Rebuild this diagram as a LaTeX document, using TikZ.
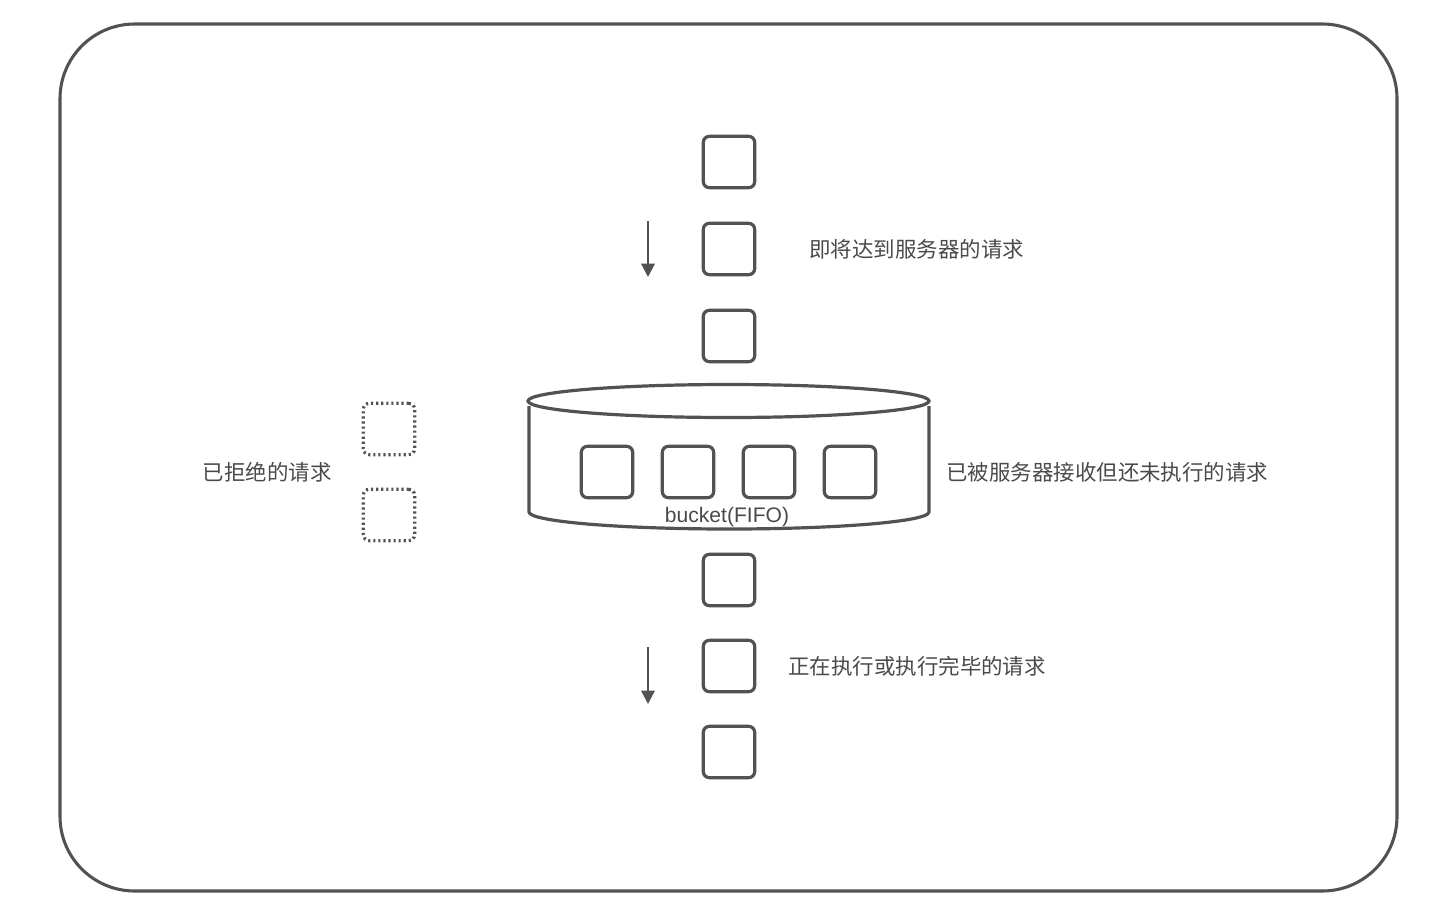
\documentclass[tikz,border=0pt]{standalone}
\usepackage{fontspec}
\setmainfont{Liberation Sans}
\newfontfamily\cjk{Noto Sans CJK SC}
\usetikzlibrary{arrows.meta}
\definecolor{ink}{HTML}{525252}
\definecolor{txt}{HTML}{4A4A4A}
\begin{document}
\begin{tikzpicture}[x=0.75pt,y=-0.75pt,
  req/.style={draw=ink, line width=2.4pt, rounded corners=4.5pt,
    minimum width=38.5pt, minimum height=38.5pt, inner sep=0pt},
  rejected/.style={draw=ink, line width=2.4pt, rounded corners=4.5pt,
    dash pattern=on 1.6pt off 2.2pt,
    minimum width=38.5pt, minimum height=38.5pt, inner sep=0pt},
  caption/.style={text=txt, font=\cjk\fontsize{16.1pt}{18pt}\selectfont,
    inner sep=0pt},
  flow/.style={draw=ink, line width=1.7pt,
    -{Triangle[length=10pt,width=10pt]}}]
\useasboundingbox (0,0) rectangle (1434,922);

% outer frame
\draw[ink, line width=2.3pt, rounded corners=56pt] (60,24) rectangle (1397,891);

% incoming requests
\node[req] (in1) at (729,162) {};
\node[req] (in2) at (729,249) {};
\node[req] (in3) at (729,336) {};
\coordinate (inA) at (648,221);
\coordinate (inB) at (648,277);
\draw[flow] (inA) -- (inB);
\node[caption, anchor=west] (inlabel) at (809,249) {即将达到服务器的请求};

% bucket (cylinder)
\draw[ink, line width=2.4pt, fill=white]
  (529,406) -- (529,512) arc[start angle=180, end angle=0, x radius=200, y radius=17]
  -- (929,406);
\draw[ink, line width=2.4pt, fill=white] (728.5,401) ellipse[x radius=200.5, y radius=16.5];
\node[req] (q1) at (607,472) {};
\node[req] (q2) at (688,472) {};
\node[req] (q3) at (769,472) {};
\node[req] (q4) at (850,472) {};
\node[text=txt, font=\fontsize{15.8pt}{18pt}\selectfont, inner sep=0pt] (bucket) at (727,517) {bucket(FIFO)};
\node[caption, anchor=west] (qlabel) at (946,472) {已被服务器接收但还未执行的请求};

% rejected requests
\node[rejected] (r1) at (389,429) {};
\node[rejected] (r2) at (389,515) {};
\node[caption, anchor=east] (rlabel) at (332,472) {已拒绝的请求};

% processed requests
\node[req] (out1) at (729,580) {};
\node[req] (out2) at (729,666) {};
\node[req] (out3) at (729,752) {};
\coordinate (outA) at (648,647);
\coordinate (outB) at (648,704);
\draw[flow] (outA) -- (outB);
\node[caption, anchor=west] (outlabel) at (788,666) {正在执行或执行完毕的请求};
\end{tikzpicture}
\end{document}
